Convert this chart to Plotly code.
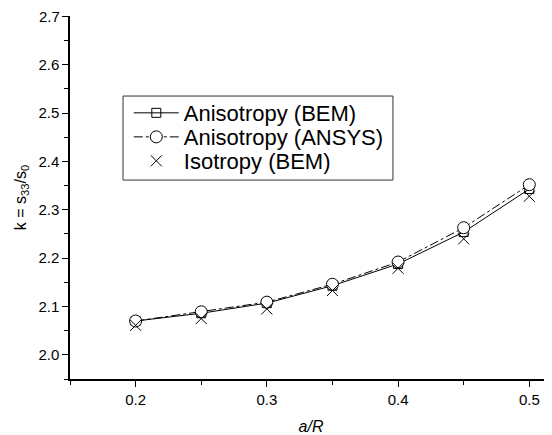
import plotly.graph_objects as go

a_R = [0.2, 0.25, 0.3, 0.35, 0.4, 0.45, 0.5]
aniso_bem = [2.070, 2.086, 2.107, 2.143, 2.188, 2.254, 2.343]
aniso_ansys = [2.070, 2.089, 2.109, 2.146, 2.192, 2.263, 2.352]
iso_bem = [2.061, 2.075, 2.095, 2.133, 2.179, 2.240, 2.328]
y_ticks = [2.0, 2.1, 2.2, 2.3, 2.4, 2.5, 2.6, 2.7]
x_ticks = [0.2, 0.3, 0.4, 0.5]

font = "Liberation Sans, Arial, sans-serif"

fig = go.Figure()
fig.add_trace(go.Scatter(
    x=a_R, y=aniso_bem, name="Anisotropy (BEM)", mode="lines+markers", legend="legend",
    line=dict(color="black", width=1),
    marker=dict(symbol="square-open", size=9, color="black", line=dict(width=1)),
))
fig.add_trace(go.Scatter(
    x=a_R, y=aniso_ansys, name="Anisotropy (ANSYS)", mode="lines+markers", legend="legend2",
    line=dict(color="black", width=1, dash="dashdot"),
    marker=dict(symbol="circle", size=12, color="white", line=dict(width=1, color="black")),
))
fig.add_trace(go.Scatter(
    x=a_R, y=iso_bem, name="Isotropy (BEM)", mode="markers", legend="legend3",
    marker=dict(symbol="x-thin-open", size=11, color="black", line=dict(width=1, color="black")),
))

leg_common = dict(
    xanchor="left", yanchor="middle", borderwidth=0, bgcolor="rgba(0,0,0,0)",
    font=dict(size=22, family=font, color="black"), itemwidth=45,
)

# the top tick label sits at the very edge of the figure, where plotly would drop it,
# so it is written as an annotation at the same axis value
top_tick = y_ticks[-1]
y_ticktext = [f"{v:.1f}" for v in y_ticks[:-1]] + [""]

# page body has an 8px margin; figure is sized/offset to compensate
fig.update_layout(
    width=544, height=427,
    margin=dict(l=62, r=0, t=8, b=56, autoexpand=False),
    paper_bgcolor="white", plot_bgcolor="white",
    font=dict(family=font, color="black", size=15),
    showlegend=True,
    legend=dict(x=0.122, y=0.7327, **leg_common),
    legend2=dict(x=0.122, y=0.6665, **leg_common),
    legend3=dict(x=0.122, y=0.6004, **leg_common),
    shapes=[dict(type="rect", xref="paper", yref="paper",
                 x0=0.110, x1=0.670, y0=0.548, y1=0.7795,
                 line=dict(color="#333333", width=1), fillcolor="white", layer="above")],
    annotations=[dict(text=f"{top_tick:.1f}", x=0, xref="paper", y=top_tick, yref="y",
                      xanchor="right", yanchor="middle", xshift=-8, showarrow=False,
                      font=dict(size=15, family=font, color="black"))],
    xaxis=dict(
        range=[0.15, 0.5173], showgrid=False, zeroline=False, automargin=False,
        showline=True, linecolor="black", linewidth=1.5,
        ticks="outside", ticklen=6, tickwidth=1, tickcolor="black",
        tickmode="array", tickvals=x_ticks, ticktext=[f"{v:.1f}" for v in x_ticks],
        minor=dict(tickmode="array", tickvals=[0.15, 0.25, 0.35, 0.45], ticks="outside", ticklen=4, tickcolor="black"),
        title=dict(text="<i>a/R</i>", font=dict(size=16, family=font), standoff=14),
    ),
    yaxis=dict(
        range=[1.95, 2.701], showgrid=False, zeroline=False, automargin=False,
        showline=True, linecolor="black", linewidth=1.5,
        ticks="outside", ticklen=6, tickwidth=1, tickcolor="black",
        tickmode="array", tickvals=y_ticks, ticktext=y_ticktext,
        minor=dict(tickmode="array", tickvals=[1.95, 2.05, 2.15, 2.25, 2.35, 2.45, 2.55, 2.65],
                   ticks="outside", ticklen=4, tickcolor="black"),
        title=dict(text="k = s<sub>33</sub>/s<sub>0</sub>", font=dict(size=16, family=font), standoff=8),
    ),
)

fig.write_html("out.html")
